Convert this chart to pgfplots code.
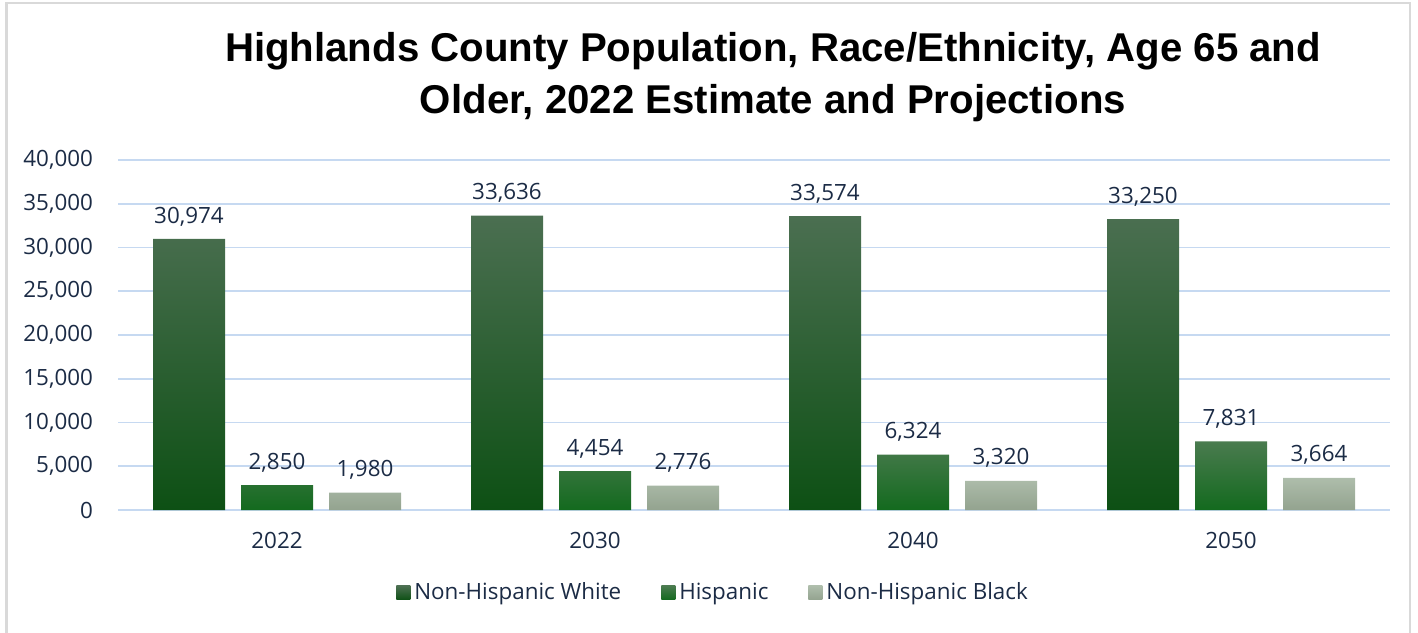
\documentclass[border=0pt]{standalone}
\usepackage{fontspec}
\setmainfont{Open Sans}
\newfontfamily\titlefont{Liberation Sans}
\usepackage{pgfplots}
\pgfplotsset{compat=1.18}
\definecolor{txt}{HTML}{1B2B45}
\definecolor{gridc}{HTML}{C6D9F1}
\definecolor{frame}{HTML}{D9D9D9}
\definecolor{wTop}{HTML}{4B6F51}
\definecolor{wMid}{HTML}{10551A}
\definecolor{wBot}{HTML}{0D5014}
\definecolor{hTop}{HTML}{4A7B4F}
\definecolor{hMid}{HTML}{196D23}
\definecolor{hBot}{HTML}{136A1E}
\definecolor{bTop}{HTML}{AEBDAB}
\definecolor{bMid}{HTML}{A0B09D}
\definecolor{bBot}{HTML}{93A38F}
\newcommand{\lblfont}{\fontsize{11.2}{13}\selectfont}
\pgfplotsset{sq/.style={legend image code/.code={\path[##1,draw=none] (0pt,-3.5pt) rectangle (7pt,3.5pt);}}}
\begin{document}
\begin{tikzpicture}
\path[use as bounding box] (0,0) rectangle (709pt,316pt);
\draw[color=frame, line width=1.2pt] (3.25pt,-10pt) rectangle (705pt,314.5pt);
\node[anchor=base, inner sep=0pt, font=\titlefont\bfseries\fontsize{20.1}{24}\selectfont] at (386.5pt,285pt) {Highlands County Population, Race/Ethnicity, Age 65 and};
\node[anchor=base, inner sep=0pt, font=\titlefont\bfseries\fontsize{20.1}{24}\selectfont] at (386.5pt,259pt) {Older, 2022 Estimate and Projections};
\begin{axis}[
  at={(59pt,61pt)}, anchor=south west,
  scale only axis, width=636pt, height=175pt,
  xmin=-0.5, xmax=3.5, ymin=0, ymax=40000,
  ybar=8pt, bar width=36pt,
  xtick={0,1,2,3}, xticklabels={2022,2030,2040,2050},
  ytick={0,5000,...,40000},
  ymajorgrids, grid style={color=gridc, line width=0.8pt},
  axis line style={draw=none},
  major tick length=0pt, tick style={draw=none},
  scaled y ticks=false,
  /pgf/number format/.cd, fixed, precision=0, 1000 sep={,}, assume math mode=true,
  /pgfplots/.cd,
  ticklabel style={font=\lblfont, text=txt},
  xticklabel style={yshift=-7.5pt},
  yticklabel style={xshift=-9pt},
  nodes near coords,
  nodes near coords style={font=\lblfont, text=txt, anchor=south, yshift=3pt},
  legend style={at={(0.4686,-0.237)}, anchor=center, draw=none, fill=none, legend columns=3, font=\lblfont, text=txt,
    /tikz/every even column/.append style={column sep=18pt}},
]
\addplot[draw=none, top color=wTop, middle color=wMid, bottom color=wBot, sq] coordinates {(0,30974) (1,33636) (2,33574) (3,33250)};
\addlegendentry{Non-Hispanic White}
\addplot[draw=none, top color=hTop, middle color=hMid, bottom color=hBot, sq] coordinates {(0,2850) (1,4454) (2,6324) (3,7831)};
\addlegendentry{Hispanic}
\addplot[draw=none, top color=bTop, middle color=bMid, bottom color=bBot, sq] coordinates {(0,1980) (1,2776) (2,3320) (3,3664)};
\addlegendentry{Non-Hispanic Black}
\end{axis}
\end{tikzpicture}
\end{document}
